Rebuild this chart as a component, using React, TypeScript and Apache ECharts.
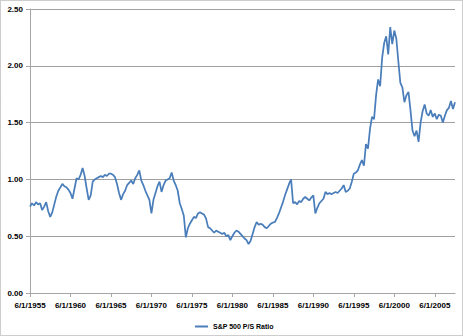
import React, { useEffect, useRef } from "react";
import * as echarts from "echarts";

// Quarterly observations starting 6/1/1955 (Jun, Sep, Dec, Mar ...)
const START_YEAR = 1955;
const START_MONTH = 6;
const STEP_MONTHS = 3;

const psRatio: number[] = [
  0.76, 0.79, 0.77, 0.80, 0.78, 0.79, 0.73, 0.76, 0.80, 0.72,
  0.67, 0.71, 0.78, 0.85, 0.90, 0.93, 0.96, 0.94, 0.93, 0.91,
  0.88, 0.83, 0.92, 1.01, 1.00, 1.04, 1.10, 1.03, 0.92, 0.82,
  0.86, 0.98, 1.00, 1.01, 1.02, 1.03, 1.02, 1.04, 1.03, 1.05,
  1.05, 1.04, 1.02, 0.96, 0.88, 0.82, 0.87, 0.90, 0.95, 0.97,
  0.99, 0.96, 1.01, 1.04, 1.08, 0.99, 0.95, 0.90, 0.86, 0.82,
  0.70, 0.82, 0.88, 0.94, 0.98, 0.89, 0.95, 0.99, 1.00, 1.01,
  1.06, 0.99, 0.95, 0.90, 0.79, 0.74, 0.68, 0.49, 0.57, 0.61,
  0.64, 0.67, 0.66, 0.70, 0.71, 0.70, 0.69, 0.655, 0.58, 0.57,
  0.55, 0.53, 0.55, 0.54, 0.53, 0.52, 0.53, 0.50, 0.51, 0.465,
  0.50, 0.53, 0.55, 0.54, 0.52, 0.50, 0.48, 0.465, 0.43, 0.46,
  0.52, 0.58, 0.625, 0.60, 0.61, 0.60, 0.58, 0.57, 0.59, 0.61,
  0.62, 0.625, 0.66, 0.70, 0.75, 0.80, 0.86, 0.91, 0.96, 1.00,
  0.79, 0.80, 0.78, 0.81, 0.80, 0.83, 0.845, 0.83, 0.815, 0.84,
  0.86, 0.70, 0.75, 0.79, 0.81, 0.83, 0.89, 0.87, 0.88, 0.87,
  0.88, 0.89, 0.88, 0.90, 0.92, 0.95, 0.89, 0.90, 0.92, 0.98,
  1.05, 1.06, 1.08, 1.13, 1.17, 1.12, 1.31, 1.27, 1.445, 1.55,
  1.53, 1.74, 1.88, 1.82, 2.07, 2.20, 2.26, 2.10, 2.34, 2.19,
  2.31, 2.24, 2.04, 1.85, 1.81, 1.68, 1.74, 1.77, 1.61, 1.43,
  1.38, 1.43, 1.33, 1.50, 1.60, 1.66, 1.58, 1.56, 1.61, 1.55,
  1.58, 1.53, 1.57, 1.56, 1.50, 1.56, 1.61, 1.63, 1.69, 1.62,
  1.68,
];

const categories: string[] = psRatio.map((_, i) => {
  const total = START_MONTH - 1 + i * STEP_MONTHS;
  const y = START_YEAR + Math.floor(total / 12);
  const m = (total % 12) + 1;
  return `${m}/1/${y}`;
});

const SERIES_NAME = "S&P 500 P/S Ratio";
const Y_TICKS = { min: 0, max: 2.5, interval: 0.5 };

export default function App() {
  const ref = useRef<HTMLDivElement>(null);
  useEffect(() => {
    if (!ref.current) return;
    const chart = echarts.init(ref.current, undefined, { renderer: "svg" });
    const font = "'Liberation Sans', Arial, sans-serif";
    chart.setOption({
      animation: false,
      backgroundColor: "#ffffff",
      textStyle: { fontFamily: font },
      grid: { left: 30, right: 8, top: 9, bottom: 43 },
      graphic: [
        {
          type: "rect",
          shape: { x: 0.5, y: 0.5, width: 462, height: 335 },
          style: { fill: "none", stroke: "#9a9a9a", lineWidth: 1, lineDash: [1, 1] },
          silent: true,
        },
      ],
      legend: {
        data: [SERIES_NAME],
        left: 190,
        top: 318,
        itemWidth: 13,
        itemHeight: 2,
        itemGap: 4,
        icon: "rect",
        textStyle: { fontSize: 7, fontWeight: "bold", color: "#000", fontFamily: font },
      },
      xAxis: {
        type: "category",
        data: categories,
        boundaryGap: false,
        axisLine: { lineStyle: { color: "#a6a6a6", width: 1 } },
        axisTick: { show: true, interval: 19, length: 4, lineStyle: { color: "#a6a6a6" } },
        axisLabel: {
          interval: 19,
          fontSize: 8,
          fontWeight: "bold",
          color: "#000",
          margin: 8,
          fontFamily: font,
        },
        splitLine: { show: false },
      },
      yAxis: {
        type: "value",
        min: Y_TICKS.min,
        max: Y_TICKS.max,
        interval: Y_TICKS.interval,
        axisLine: { show: true, lineStyle: { color: "#a6a6a6", width: 1 } },
        axisTick: { show: true, length: 4, lineStyle: { color: "#a6a6a6" } },
        axisLabel: {
          fontSize: 8,
          fontWeight: "bold",
          color: "#000",
          margin: 7,
          fontFamily: font,
          formatter: (v: number) => v.toFixed(2),
        },
        splitLine: { show: true, lineStyle: { color: "#a0a0a0", width: 1 } },
      },
      series: [
        {
          name: SERIES_NAME,
          type: "line",
          data: psRatio,
          showSymbol: false,
          symbol: "none",
          lineStyle: { color: "#4a7ebb", width: 1.75 },
          itemStyle: { color: "#4a7ebb" },
        },
      ],
    });
    return () => chart.dispose();
  }, []);
  return (
    <div
      ref={ref}
      style={{ position: "fixed", left: 0, top: 0, width: 463, height: 336 }}
    />
  );
}
